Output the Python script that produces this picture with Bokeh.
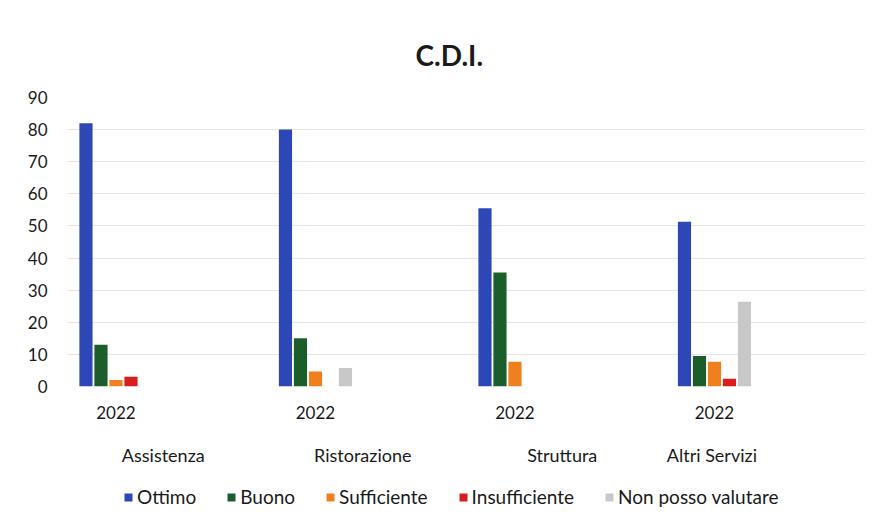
from bokeh.plotting import figure
from bokeh.layouts import column
from bokeh.models import (Range1d, LinearAxis, FixedTicker, Legend, LegendItem,
                          ColumnDataSource, CustomJSTickFormatter)
from bokeh.transform import dodge
from bokeh.embed import file_html
from bokeh.resources import INLINE

# ---------------- data ----------------
categories = ["Assistenza", "Ristorazione", "Struttura", "Altri Servizi"]
year_labels = ["2022", "2022", "2022", "2022"]
series_names = ["Ottimo", "Buono", "Sufficiente", "Insufficiente", "Non posso valutare"]
ottimo = [82, 80, 55.5, 51.3]
buono = [13, 15, 35.5, 9.5]
sufficiente = [2, 4.7, 7.7, 7.7]
insufficiente = [3, 0, 0, 2.4]
non_posso = [0, 5.8, 0, 26.4]
y_ticks = [0, 10, 20, 30, 40, 50, 60, 70, 80, 90]

# ---------------- style / layout ----------------
colors = ["#2d48b6", "#1c5e2b", "#f0801f", "#dc1c1c", "#c8c8c8"]
FONT = "Lato"
TXT = "#1a1a1a"
GROUP_SHIFT = 0.243          # bars sit left inside each category slot
BAR_W = 0.066
STEP = 0.0752
CAT_LABEL_X = [0.48, 1.48, 2.48, 3.23]

group_x = [i + GROUP_SHIFT for i in range(len(categories))]
src = ColumnDataSource(dict(
    x=group_x, ottimo=ottimo, buono=buono, sufficiente=sufficiente,
    insufficiente=insufficiente, non_posso=non_posso,
))

p = figure(width=871, height=478, output_backend="svg", toolbar_location=None,
           x_range=Range1d(0, len(categories)), y_range=Range1d(0, 90),
           min_border_left=67, min_border_right=6, min_border_top=97,
           min_border_bottom=92, title="C.D.I.")
p.outline_line_color = None
p.background_fill_color = "white"
p.border_fill_color = "white"

p.title.align = "left"
p.title.offset = 348
p.title.text_font = FONT
p.title.text_font_size = "28px"
p.title.text_font_style = "bold"
p.title.text_color = TXT
p.title.standoff = 52

cols = ["ottimo", "buono", "sufficiente", "insufficiente", "non_posso"]
for k, (col, c) in enumerate(zip(cols, colors)):
    p.vbar(x=dodge("x", (k - 2) * STEP, range=p.x_range), top=col,
           width=BAR_W, source=src, fill_color=c, line_color=None)

# y axis
p.yaxis.ticker = FixedTicker(ticks=y_ticks)
p.yaxis.axis_line_color = None
p.yaxis.major_tick_line_color = None
p.yaxis.minor_tick_line_color = None
p.yaxis.major_label_text_font = FONT
p.yaxis.major_label_text_font_size = "17px"
p.yaxis.major_label_text_color = TXT
p.yaxis.major_label_standoff = 14

p.ygrid.grid_line_color = "#e6e6e6"
p.ygrid.grid_line_width = 1
p.xgrid.grid_line_color = None

# x axis 1: year labels
xa = p.xaxis[0]
xa.ticker = FixedTicker(ticks=group_x)
xa.formatter = CustomJSTickFormatter(args=dict(labels=year_labels),
                                     code="return labels[index];")
xa.axis_line_color = None
xa.major_tick_line_color = None
xa.minor_tick_line_color = None
xa.major_label_text_font = FONT
xa.major_label_text_font_size = "17px"
xa.major_label_text_color = TXT
xa.major_label_standoff = 13

# x axis 2: category labels
xa2 = LinearAxis(ticker=FixedTicker(ticks=CAT_LABEL_X),
                 formatter=CustomJSTickFormatter(args=dict(labels=categories),
                                                 code="return labels[index];"))
xa2.axis_line_color = None
xa2.major_tick_line_color = None
xa2.minor_tick_line_color = None
xa2.major_label_text_font = FONT
xa2.major_label_text_font_size = "18px"
xa2.major_label_text_color = TXT
xa2.major_label_standoff = 16
p.add_layout(xa2, "below")

# ---------------- legend strip ----------------
q = figure(width=871, height=40, output_backend="svg", toolbar_location=None,
           x_range=Range1d(0, 1), y_range=Range1d(0, 1),
           x_axis_type=None, y_axis_type=None,
           min_border_left=0, min_border_right=0, min_border_top=0, min_border_bottom=0)
q.outline_line_color = None
q.xgrid.grid_line_color = None
q.ygrid.grid_line_color = None
nan = float("nan")
proxy_src = ColumnDataSource(dict(x=[nan], top=[nan]))
proxies = [q.vbar(x="x", top="top", width=0.01, source=proxy_src,
                  fill_color=c, line_color=None)
           for c in colors]
legend = Legend(items=[LegendItem(label=n, renderers=[r]) for n, r in zip(series_names, proxies)],
                orientation="horizontal", location=(56, 10))
legend.label_text_font = FONT
legend.label_text_font_size = "19px"
legend.label_text_color = TXT
legend.glyph_width = 10
legend.glyph_height = 10
legend.label_standoff = 4
legend.spacing = 30
legend.padding = 4
legend.margin = 0
legend.border_line_color = None
legend.background_fill_alpha = 0
q.add_layout(legend, "center")

page = column(p, q, spacing=0)
open("out.html", "w").write(file_html(page, INLINE))
